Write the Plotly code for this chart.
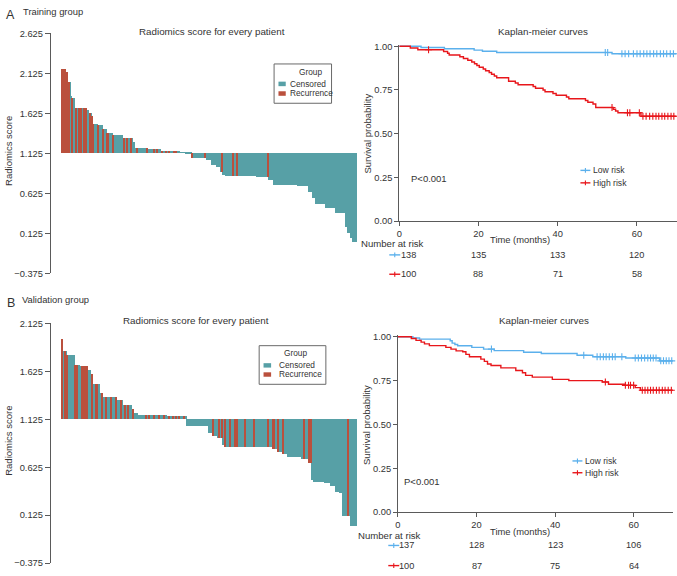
import plotly.graph_objects as go

W, H = 677, 576
def fx(p): return p / W
def fy(p): return 1 - p / H

FONT = "Liberation Sans, Arial, Helvetica, sans-serif"
TXT = "#333333"
AX = "#5a5a5a"
TEAL = "#57A0A6"
BRICK = "#BA503D"
KM_BLUE = "#5BB0EC"
KM_RED = "#E8161B"
BASELINE = 1.125

# ---------------- data ----------------
train_scores = [
    2.17, 2.17, 2.17, 2.14, 2.14, 2.01, 2.01, 1.84, 1.81, 1.81,
    1.69, 1.69, 1.69, 1.69, 1.69, 1.69, 1.69, 1.69, 1.69, 1.69,
    1.665, 1.665, 1.625, 1.625, 1.585, 1.49, 1.49, 1.49, 1.49, 1.47,
    1.47, 1.47, 1.47, 1.42, 1.42, 1.42, 1.38, 1.38, 1.38, 1.38,
    1.38, 1.35, 1.35, 1.35, 1.35, 1.35, 1.35, 1.35, 1.35, 1.31,
    1.31, 1.31, 1.31, 1.31, 1.31, 1.31, 1.31, 1.265, 1.265, 1.19,
    1.19, 1.19, 1.19, 1.19, 1.19, 1.19, 1.19, 1.19, 1.19, 1.17,
    1.17, 1.17, 1.17, 1.17, 1.17, 1.17, 1.17, 1.17, 1.17, 1.17,
    1.15, 1.15, 1.15, 1.15, 1.15, 1.15, 1.15, 1.15, 1.15, 1.15,
    1.15, 1.15, 1.15, 1.15, 1.15, 1.135, 1.135, 1.135, 1.135, 1.135,
    1.118, 1.118, 1.118, 1.118, 1.118, 1.06, 1.06, 1.06, 1.06, 1.06,
    1.06, 1.06, 1.06, 1.06, 1.06, 1.06, 1.06, 1.03, 1.03, 1.03,
    1.03, 0.975, 0.975, 0.975, 0.975, 0.945, 0.945, 0.945, 0.89, 0.89,
    0.85, 0.85, 0.833, 0.833, 0.833, 0.833, 0.833, 0.833, 0.833, 0.833,
    0.833, 0.833, 0.833, 0.833, 0.833, 0.833, 0.833, 0.833, 0.833, 0.833,
    0.833, 0.833, 0.833, 0.833, 0.833, 0.833, 0.833, 0.821, 0.821, 0.821,
    0.821, 0.821, 0.821, 0.821, 0.821, 0.821, 0.821, 0.78, 0.78, 0.78,
    0.78, 0.728, 0.728, 0.728, 0.728, 0.728, 0.728, 0.728, 0.728, 0.728,
    0.728, 0.728, 0.728, 0.728, 0.728, 0.728, 0.728, 0.728, 0.728, 0.728,
    0.711, 0.711, 0.711, 0.711, 0.711, 0.711, 0.711, 0.711, 0.711, 0.637,
    0.637, 0.637, 0.556, 0.556, 0.556, 0.482, 0.482, 0.482, 0.482, 0.482,
    0.482, 0.482, 0.482, 0.433, 0.433, 0.433, 0.433, 0.433, 0.433, 0.433,
    0.433, 0.371, 0.371, 0.371, 0.371, 0.371, 0.371, 0.371, 0.371, 0.2,
    0.2, 0.125, 0.125, 0.064, 0.064, 0.015, 0.015, 0.015,
]
train_recurrence = [0, 1, 2, 3, 4, 5, 8, 11, 13, 15, 17, 19, 22, 24, 25, 29, 33,
                    36, 37, 41, 50, 52, 55, 60, 68, 74, 76, 80, 84, 86, 90, 92,
                    105, 115, 129, 138, 141, 166]

valid_scores = [
    1.955, 1.829, 1.829, 1.829, 1.794, 1.794, 1.794, 1.794, 1.794, 1.794,
    1.692, 1.692, 1.692, 1.692, 1.675, 1.675, 1.675, 1.675, 1.675, 1.675,
    1.675, 1.634, 1.634, 1.59, 1.59, 1.487, 1.487, 1.487, 1.487, 1.487,
    1.40, 1.40, 1.40, 1.35, 1.35, 1.35, 1.35, 1.35, 1.35, 1.35,
    1.35, 1.35, 1.35, 1.35, 1.317, 1.317, 1.317, 1.317, 1.317, 1.272,
    1.272, 1.272, 1.272, 1.272, 1.272, 1.272, 1.23, 1.23, 1.186, 1.186,
    1.186, 1.169, 1.169, 1.169, 1.169, 1.169, 1.169, 1.169, 1.169, 1.169,
    1.169, 1.169, 1.169, 1.169, 1.169, 1.169, 1.169, 1.169, 1.169, 1.169,
    1.169, 1.169, 1.169, 1.169, 1.152, 1.152, 1.152, 1.152, 1.152, 1.152,
    1.152, 1.152, 1.152, 1.152, 1.152, 1.152, 1.152, 1.152, 1.152, 1.152,
    1.05, 1.05, 1.05, 1.05, 1.05, 1.05, 1.05, 1.05, 1.05, 1.05,
    1.05, 1.05, 1.05, 1.05, 1.05, 1.05, 1.05, 1.05, 0.975, 0.975,
    0.975, 0.95, 0.95, 0.95, 0.95, 0.93, 0.93, 0.93, 0.93, 0.848,
    0.848, 0.828, 0.828, 0.828, 0.828, 0.828, 0.828, 0.828, 0.828, 0.828,
    0.828, 0.828, 0.828, 0.828, 0.828, 0.828, 0.828, 0.828, 0.828, 0.828,
    0.828, 0.828, 0.828, 0.828, 0.828, 0.828, 0.828, 0.828, 0.828, 0.828,
    0.828, 0.828, 0.828, 0.828, 0.828, 0.828, 0.828, 0.828, 0.828, 0.814,
    0.814, 0.814, 0.814, 0.78, 0.78, 0.78, 0.78, 0.76, 0.76, 0.76,
    0.76, 0.725, 0.725, 0.725, 0.725, 0.725, 0.725, 0.725, 0.725, 0.725,
    0.725, 0.725, 0.725, 0.711, 0.711, 0.711, 0.711, 0.711, 0.667, 0.667,
    0.667, 0.487, 0.472, 0.472, 0.472, 0.472, 0.472, 0.472, 0.472, 0.472,
    0.472, 0.452, 0.452, 0.452, 0.452, 0.452, 0.428, 0.428, 0.428, 0.428,
    0.36, 0.36, 0.36, 0.349, 0.349, 0.349, 0.115, 0.115, 0.115, 0.115,
    0.115, 0.115, 0.01, 0.01, 0.01, 0.01, 0.01,
]
valid_recurrence = [0, 2, 4, 10, 12, 16, 17, 18, 19, 20, 24, 27, 28, 32, 35, 39,
                    43, 47, 50, 53, 57, 67, 70, 74, 78, 82, 86, 89, 91, 94, 98,
                    121, 126, 128, 131, 135, 139, 140, 147, 154, 165, 169, 170,
                    173, 177, 194, 198, 200, 230]

score_ticks_train = [-0.375, 0.125, 0.625, 1.125, 1.625, 2.125, 2.625]
score_ticks_valid = [-0.375, 0.125, 0.625, 1.125, 1.625, 2.125]

# Kaplan-Meier step curves (time in months, survival probability)
km_train_low_t = [0, 5.5, 11.4, 18.9, 21.0, 24.6, 53.7, 70]
km_train_low_s = [1.0, 0.993, 0.986, 0.978, 0.971, 0.964, 0.957, 0.957]
km_train_low_cens = [52.0, 52.6, 56.2, 57.0, 57.9, 59.1, 60.0, 60.8, 61.7, 62.5,
                     63.3, 64.2, 65.0, 65.9, 66.7, 67.5, 68.4, 69.2]

km_train_high_t = [0, 2.8, 4.7, 11.2, 12.2, 12.6, 15.3, 16.2, 17.3, 18.3, 19.0,
                   19.6, 20.2, 21.2, 21.8, 22.7, 23.3, 24.0, 24.6, 27.6, 29.3,
                   30.0, 33.8, 34.4, 36.3, 36.8, 38.8, 39.6, 42.2, 42.8, 47.0,
                   47.6, 48.9, 49.6, 54.0, 54.6, 55.2, 61.0, 70]
km_train_high_s = [1.0, 0.99, 0.98, 0.97, 0.96, 0.95, 0.94, 0.93, 0.92, 0.91, 0.90,
                   0.89, 0.88, 0.87, 0.86, 0.85, 0.84, 0.83, 0.82, 0.80, 0.79,
                   0.78, 0.77, 0.76, 0.75, 0.74, 0.73, 0.72, 0.71, 0.70, 0.69,
                   0.68, 0.67, 0.65, 0.64, 0.63, 0.62, 0.60, 0.60]
km_train_high_cens = [7.4, 53.7, 57.6, 58.2, 60.6, 61.5, 62.3, 63.2, 64.0, 64.8,
                      65.5, 66.3, 67.0, 67.8, 68.6, 69.3]

km_valid_low_t = [0, 3.8, 5.5, 13.3, 13.8, 14.5, 15.2, 18.8, 21.8, 24.5, 32.0,
                  36.5, 45.6, 49.6, 58.0, 66.6, 70]
km_valid_low_s = [1.0, 0.993, 0.987, 0.978, 0.964, 0.956, 0.949, 0.94, 0.93,
                  0.921, 0.912, 0.905, 0.895, 0.886, 0.879, 0.863, 0.863]
km_valid_low_cens = [23.8, 47.3, 50.7, 51.5, 52.3, 53.0, 53.8, 54.6, 55.3, 57.0,
                     60.4, 61.2, 62.0, 62.8, 63.6, 64.3, 65.0, 65.7, 66.9, 67.6,
                     68.3, 69.0, 69.7]

km_valid_high_t = [0, 3.4, 4.6, 5.9, 6.75, 8.0, 12.2, 13.5, 14.8, 16.5, 17.3,
                   18.2, 21.1, 22.0, 22.8, 23.7, 26.2, 30.0, 31.7, 32.5, 34.2,
                   39.3, 43.5, 52.0, 53.6, 57.9, 60.4, 61.7, 70]
km_valid_high_s = [1.0, 0.99, 0.98, 0.97, 0.96, 0.95, 0.94, 0.93, 0.92, 0.915,
                   0.90, 0.886, 0.873, 0.86, 0.845, 0.836, 0.823, 0.808, 0.795,
                   0.78, 0.77, 0.757, 0.75, 0.742, 0.729, 0.723, 0.71, 0.695, 0.695]
km_valid_high_cens = [52.8, 57.9, 58.7, 59.2, 60.0, 62.2, 62.9, 63.6, 64.3, 65.0,
                      65.8, 66.5, 67.3, 68.0, 68.8, 69.6]

risk_times = [0, 20, 40, 60]
risk_train_low = [138, 135, 133, 120]
risk_train_high = [100, 88, 71, 58]
risk_valid_low = [137, 128, 123, 106]
risk_valid_high = [100, 87, 75, 64]

# ---------------- figure ----------------
fig = go.Figure()


def step_at(ts, ss, t):
    v = ss[0]
    for tt, s in zip(ts, ss):
        if tt <= t:
            v = s
    return v


def add_waterfall(scores, recur, xa, ya):
    rset = set(recur)
    idx = list(range(len(scores)))
    for name, color, flag in (("Censored", TEAL, False), ("Recurrence", BRICK, True)):
        xs = [i for i in idx if (i in rset) == flag]
        fig.add_trace(go.Bar(
            x=xs, y=[scores[i] - BASELINE for i in xs], base=BASELINE, width=1.0,
            marker=dict(color=color, line=dict(width=0)), name=name,
            xaxis=xa, yaxis=ya, showlegend=False, hoverinfo="skip"))


add_waterfall(train_scores, train_recurrence, "x", "y")
add_waterfall(valid_scores, valid_recurrence, "x2", "y2")


def add_km(ts, ss, cens, color, name, xa, ya):
    fig.add_trace(go.Scatter(x=ts, y=ss, mode="lines", line=dict(shape="hv", color=color, width=1.4),
                             name=name, xaxis=xa, yaxis=ya, showlegend=False, hoverinfo="skip"))
    fig.add_trace(go.Scatter(x=cens, y=[step_at(ts, ss, c) for c in cens], mode="markers",
                             marker=dict(symbol="cross-thin", size=5, line=dict(width=1.1, color=color)),
                             xaxis=xa, yaxis=ya, showlegend=False, hoverinfo="skip", cliponaxis=False))


add_km(km_train_low_t, km_train_low_s, km_train_low_cens, KM_BLUE, "Low risk", "x3", "y3")
add_km(km_train_high_t, km_train_high_s, km_train_high_cens, KM_RED, "High risk", "x3", "y3")
add_km(km_valid_low_t, km_valid_low_s, km_valid_low_cens, KM_BLUE, "Low risk", "x4", "y4")
add_km(km_valid_high_t, km_valid_high_s, km_valid_high_cens, KM_RED, "High risk", "x4", "y4")

tickfont = dict(size=9.3, color=TXT, family=FONT)
axis_common = dict(showline=True, linecolor=AX, linewidth=1, ticks="outside",
                   tickwidth=1, tickcolor=AX, showgrid=False, zeroline=False, tickfont=tickfont)

fig.update_layout(
    width=W, height=H, margin=dict(l=0, r=0, t=0, b=0),
    paper_bgcolor="white", plot_bgcolor="white", barmode="overlay", bargap=0,
    font=dict(family=FONT, color=TXT),
    xaxis=dict(domain=[fx(48), fx(356)], range=[-9.34, 238.3], visible=False, anchor="y"),
    yaxis=dict(domain=[fy(273), fy(29)], range=[-0.375, 2.625], tickvals=score_ticks_train,
               tickformat=".3f", anchor="x", ticklen=5, **axis_common),
    xaxis2=dict(domain=[fx(48), fx(356)], range=[-9.31, 237.3], visible=False, anchor="y2"),
    yaxis2=dict(domain=[fy(568), fy(324)], range=[-0.375, 2.125], tickvals=score_ticks_valid,
                tickformat=".3f", anchor="x2", ticklen=5, **axis_common),
    xaxis3=dict(domain=[fx(398), fx(676.6)], range=[0, 70], tickvals=risk_times, anchor="y3",
                ticklen=4, **axis_common),
    yaxis3=dict(domain=[fy(220), fy(40.2)], range=[0, 1.01], tickvals=[0, 0.25, 0.5, 0.75, 1.0],
                tickformat=".2f", anchor="x3", ticklen=4, **axis_common),
    xaxis4=dict(domain=[fx(396.7), fx(672.9)], range=[0, 70], tickvals=risk_times, anchor="y4",
                ticklen=4, **axis_common),
    yaxis4=dict(domain=[fy(516), fy(335.9)], range=[0, 1.01], tickvals=[0, 0.25, 0.5, 0.75, 1.0],
                tickformat=".2f", anchor="x4", ticklen=4, **axis_common),
)

anns = []
shapes = []


def ann(text, x, y, size, xanchor="center", angle=0, xref="paper", color=TXT, xshift=0):
    anns.append(dict(text=text, x=x if xref != "paper" else fx(x), y=fy(y), xref=xref, yref="paper",
                     showarrow=False, xanchor=xanchor, yanchor="middle", textangle=angle,
                     font=dict(size=size, color=color, family=FONT), xshift=xshift, borderpad=0))


def hline(x0, x1, y, color, width=1.4):
    shapes.append(dict(type="line", xref="paper", yref="paper", x0=fx(x0), x1=fx(x1),
                       y0=fy(y), y1=fy(y), line=dict(color=color, width=width)))


def vline(x, y0, y1, color, width=1.1):
    shapes.append(dict(type="line", xref="paper", yref="paper", x0=fx(x), x1=fx(x),
                       y0=fy(y0), y1=fy(y1), line=dict(color=color, width=width)))


def rect(x0, x1, y0, y1, fill, line_color=None, width=0):
    shapes.append(dict(type="rect", xref="paper", yref="paper", x0=fx(x0), x1=fx(x1),
                       y0=fy(y0), y1=fy(y1), fillcolor=fill, layer="above",
                       line=dict(color=line_color or fill, width=width)))


# panel letters / group labels
ann("A", 8, 10.5, 12.5)
ann("Training group", 19, 6.5, 9.4, xanchor="left")
ann("B", 8, 303, 12.5)
ann("Validation group", 18, 299.5, 9.4, xanchor="left")

# titles
ann("Radiomics score for every patient", 210, 27, 9.8)
ann("Radiomics score for every patient", 194, 321, 9.8)
ann("Kaplan-meier curves", 542, 27, 9.8)
ann("Kaplan-meier curves", 543.7, 321, 9.8)

# axis titles
ann("Radiomics score", 5.5, 148, 9.5, angle=-90)
ann("Radiomics score", 5.5, 443, 9.5, angle=-90)
ann("Survival probability", 366.5, 131, 9.5, angle=-90)
ann("Survival probability", 365, 427, 9.5, angle=-90)
ann("Time (months)", 519, 239, 9.4)
ann("Time (months)", 519, 536, 9.4)

# p-values
ann("P<0.001", 409, 177, 9.5, xanchor="left")
ann("P<0.001", 402, 485, 9.5, xanchor="left")

# waterfall legends (Group)
rect(272.3, 330, 60, 100, "white", "#6a6a6a", 1)
ann("Group", 309, 68, 8.3)
rect(276.7, 284, 78, 82.6, TEAL)
ann("Censored", 287.3, 80.3, 8.3, xanchor="left")
rect(276.7, 284, 87.8, 92.4, BRICK)
ann("Recurrence", 287.3, 90, 8.3, xanchor="left")

rect(257.3, 324.3, 346.7, 386, "white", "#6a6a6a", 1)
ann("Group", 293.3, 354.3, 8.3)
rect(261.7, 269.3, 364.5, 369, TEAL)
ann("Censored", 276.7, 366.7, 8.3, xanchor="left")
rect(261.7, 269.3, 373.8, 378.3, BRICK)
ann("Recurrence", 276.7, 376, 8.3, xanchor="left")

# KM legends
for (x0, yl, yh) in ((580, 168.3, 181), (572, 464, 476)):
    hline(x0, x0 + 10, yl, KM_BLUE)
    vline(x0 + 5, yl - 2.5, yl + 2.5, KM_BLUE)
    ann("Low risk", x0 + 12, yl, 8.6, xanchor="left")
    hline(x0, x0 + 10, yh, KM_RED)
    vline(x0 + 5, yh - 2.5, yh + 2.5, KM_RED)
    ann("High risk", x0 + 12, yh, 8.6, xanchor="left")

# risk tables
ann("Number at risk", 359, 243, 9.6, xanchor="left")
ann("Number at risk", 356, 540, 9.6, xanchor="left")
for (xr, rows) in (("x3", ((254.3, risk_train_low, KM_BLUE), (274, risk_train_high, KM_RED))),
                   ("x4", ((550, risk_valid_low, KM_BLUE), (570.5, risk_valid_high, KM_RED)))):
    sx = 388 if xr == "x3" else 387
    for (yy, nums, col) in rows:
        hline(sx, sx + 11, yy, col)
        vline(sx + 5.5, yy - 2.5, yy + 2.5, col)
        for t, n in zip(risk_times, nums):
            if t == 0:
                ann(str(n), t, yy, 9.2, xanchor="left", xref=xr, xshift=0.5)
            else:
                ann(str(n), t, yy, 9.2, xref=xr)

fig.update_layout(annotations=anns, shapes=shapes)
fig.write_html("out.html", config={"displayModeBar": False},
               post_script="document.body.style.margin='0px';document.body.style.overflow='hidden';")
